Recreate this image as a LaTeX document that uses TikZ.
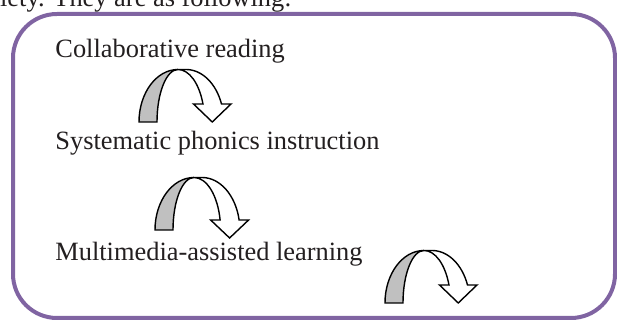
\documentclass[tikz,border=0pt]{standalone}
\usepackage{fontspec}
\setmainfont{Liberation Serif}
\usepackage{tikz}
\usetikzlibrary{positioning}
\definecolor{boxpurple}{RGB}{128,100,162}
\definecolor{bandgray}{RGB}{192,192,192}
\definecolor{textdark}{RGB}{35,31,32}
\tikzset{
  steptext/.style={anchor=base west,inner sep=0pt,text=textdark,font=\fontsize{13.2pt}{15pt}\selectfont},
  uturn/.pic={
    \pgfmathsetmacro\uang{asin(#1/52.5)}
    \pgfmathsetmacro\uout{47+37.8*cos(\uang)}
    \pgfmathsetmacro\uin{39+26.6*cos(\uang)}
    \pgfmathsetmacro\umid{(\uout+\uin)/2}
    \draw[line width=0.7pt,fill=bandgray] (0,0) arc[start angle=180,end angle=90,x radius=39,y radius=52.5]
      arc[start angle=90,end angle=180,x radius=21,y radius=52.5] -- cycle;
    \draw[line width=0.7pt,fill=white] (39,52.5) -- (47,52.5)
      arc[start angle=90,end angle=\uang,x radius=37.8,y radius=52.5]
      -- (\uout+9.5,#1) -- (\umid,#1-18) -- (\uin-9.5,#1) -- (\uin,#1)
      arc[start angle=\uang,end angle=90,x radius=26.6,y radius=52.5] -- cycle;
  }
}

\begin{document}
\begin{tikzpicture}[x=0.5pt,y=0.5pt]
        \useasboundingbox (0,0) rectangle (617,320);
        \clip (0,0) rectangle (617,320);
        \draw[boxpurple,line width=2pt,rounded corners=22pt] (13,2) rectangle (615,306);
        \node[steptext] (intro) at (-12,313) {ciety. They are as following:};
        \node[steptext] (collab) at (55,262.7) {Collaborative reading};
        \node[steptext] (phonics) at (55,170) {Systematic phonics instruction};
        \node[steptext] (multi) at (55,59.3) {Multimedia-assisted learning};
        \pic at (139,198) {uturn=18};
        \pic at (155,90) {uturn=10};
        \pic at (385,17) {uturn=18};
\end{tikzpicture}
\end{document}
